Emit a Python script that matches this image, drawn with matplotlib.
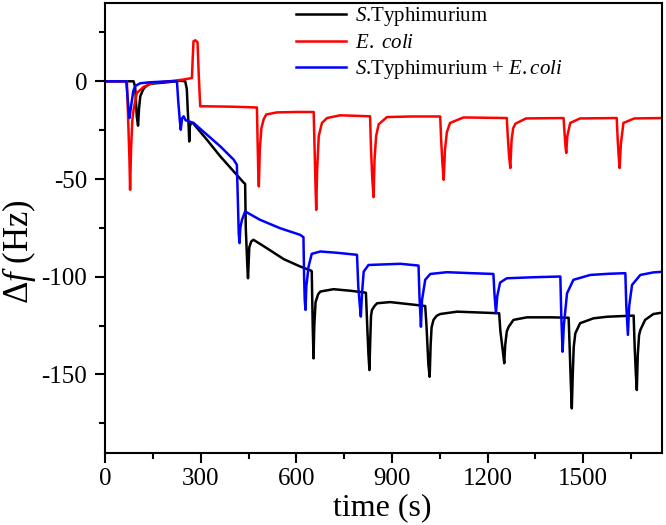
import matplotlib
matplotlib.use("Agg")
import matplotlib.pyplot as plt
from matplotlib.ticker import MultipleLocator

plt.rcParams['font.family'] = ['Liberation Serif', 'DejaVu Serif']
plt.rcParams['mathtext.fontset'] = 'custom'
plt.rcParams['mathtext.rm'] = 'Liberation Serif'
plt.rcParams['mathtext.it'] = 'Liberation Serif:italic'
plt.rcParams['axes.unicode_minus'] = False

# S.Typhimurium (black)
black_t = [0, 89, 94, 99, 103, 106, 110, 118, 125, 140, 194, 235, 251, 256, 259, 262,
           263.6, 265.5, 270, 277, 319, 361, 403, 434, 439, 441, 446, 448, 450, 452,
           458, 465, 507, 560, 612, 646, 648, 651, 653.6, 656, 660, 668, 675, 716, 770,
           818, 822, 826, 829, 832, 834, 837, 845, 853, 894, 950, 1004, 1008, 1014,
           1018, 1021, 1024, 1030, 1040, 1051, 1104, 1170, 1236, 1240, 1249, 1252,
           1255, 1260, 1266, 1281, 1323, 1400, 1454, 1457, 1461, 1464, 1467, 1470,
           1475, 1490, 1532, 1574, 1658, 1661, 1665, 1668, 1671, 1675, 1679, 1694,
           1720, 1747]
black_f = [0, 0, -3, -18, -22.7, -14, -7.7, -4.5, -2.9, -1.3, -0.5, 0.3, 0, -4, -15, -24,
           -30.8, -23, -21, -21.7, -29.9, -38.4, -46.1, -51.8, -52.5, -75, -95, -100.8,
           -93, -85, -82, -81.1, -85.4, -91, -94.8, -96.9, -97.2, -125, -141.8, -125,
           -113, -109, -107.6, -106.4, -107.2, -108.2, -125, -140, -147.8, -130, -120,
           -117, -115, -113.6, -113, -114, -115, -125, -145, -151.2, -135, -126, -122.1,
           -120, -119.1, -117.9, -118.3, -118.7, -128, -140, -144.3, -135, -128, -125.6,
           -122.1, -120.8, -120.8, -121, -135, -155, -167.4, -150, -136, -129, -123.8,
           -121.3, -120.5, -119.9, -135, -150, -158, -140, -130, -127.3, -122.1,
           -119.1, -118.4]

# E. coli (red)
red_t = [0, 68, 72, 76, 78, 81, 85, 89, 99, 120, 150, 200, 246, 272, 274, 277, 283,
         289.6, 293, 298, 320, 400, 476, 478, 480, 482, 485, 490, 497, 505, 539, 600,
         654, 657, 660, 662, 665, 670, 680, 696, 737, 831, 834, 838, 842, 845, 850,
         858, 884, 960, 1051, 1054, 1058, 1062, 1066, 1072, 1082, 1124, 1260, 1263,
         1267, 1271, 1275, 1280, 1287, 1320, 1438, 1441, 1444, 1446.5, 1450, 1459,
         1490, 1605, 1608, 1611, 1614, 1618, 1626, 1660, 1747]
red_f = [0, 0, -20, -40, -55.5, -35, -20, -14.5, -6, -2.9, -0.8, 0, 0.9, 1.7, 10, 20.5,
         21, 20, 5, -12.8, -12.8, -13, -13.4, -30, -45, -53.8, -35, -24, -19.5, -17,
         -15.9, -15.7, -15.7, -35, -55, -65.8, -45, -28, -21.3, -18.8, -17.4, -17.9,
         -35, -50, -59.3, -40, -28, -22, -18.3, -18, -18, -30, -42, -50.4, -35, -26,
         -21.3, -18.5, -18.8, -28, -38, -44.4, -30, -24, -21.7, -19, -18.8, -26, -33,
         -36.7, -28, -21.3, -19, -18.8, -30, -38, -44.4, -32, -21.3, -19, -18.8]

# S.Typhimurium + E.coli (blue)
blue_t = [0, 66, 70, 74, 76, 80, 84, 88, 94, 110, 140, 200, 225, 229, 234, 237, 241,
          246, 252, 277, 319, 361, 403, 413, 416, 419, 421.4, 424, 429, 439, 486, 549,
          612, 622, 624, 626, 628.5, 631, 638, 648, 675, 730, 790, 794, 799, 802, 806,
          811, 826, 926, 983, 986, 990.6, 994, 1004, 1020, 1072, 1150, 1218, 1221,
          1226, 1230, 1239, 1260, 1340, 1428, 1431, 1435, 1439, 1449, 1469, 1522,
          1580, 1632, 1635, 1640, 1644, 1653, 1679, 1720, 1747]
blue_f = [0, 0, -8, -16, -18.8, -14, -9.5, -5, -2.4, -1, -0.5, 0, 0, -10, -20, -24.8,
          -19, -17.9, -19.9, -21.3, -27.3, -33.3, -40.1, -42.7, -60, -78, -82.8, -75,
          -70.9, -66.6, -70.9, -75.2, -78.6, -79.8, -100, -112, -117, -105, -94.8,
          -88.3, -87.1, -87.8, -88.8, -105, -115, -120.4, -108, -97.4, -94, -93.4,
          -94.3, -110, -125.6, -112, -101.6, -98.6, -97.7, -98.2, -98.6, -108, -118.7,
          -110, -103, -100.8, -100.3, -99.9, -120, -138.4, -125, -108.5, -101.6, -99.1,
          -98.5, -98.2, -115, -129.8, -115, -104.2, -99.1, -97.8, -97.5]

fig = plt.figure(figsize=(6.66, 5.25), dpi=100)
ax = fig.add_axes([0.158, 0.138, 0.836, 0.856])

ax.plot(black_t, black_f, color='black', lw=1.8, label='$\\mathit{S}$.Typhimurium')
ax.plot(red_t, red_f, color='#ff0000', lw=1.8, label='$\\mathit{E.}$ $\\mathit{coli}$')
ax.plot(blue_t, blue_f, color='#0000ff', lw=1.8,
        label='$\\mathit{S}$.Typhimurium + $\\mathit{E.coli}$')

ax.set_xlim(0, 1747)
ax.set_ylim(-190, 40)
ax.xaxis.set_major_locator(MultipleLocator(300))
ax.xaxis.set_minor_locator(MultipleLocator(150))
ax.yaxis.set_major_locator(MultipleLocator(50))
ax.yaxis.set_minor_locator(MultipleLocator(25))
ax.tick_params(which='both', direction='out', width=1.5, top=False, right=False)
ax.tick_params(which='major', length=7, labelsize=18)
ax.tick_params(axis='x', which='major', pad=4)
ax.tick_params(axis='y', which='major', pad=6)
ax.tick_params(which='minor', length=4)
for s in ax.spines.values():
    s.set_linewidth(1.5)

ax.set_xlabel('time (s)', fontsize=23)
ax.set_ylabel('$\\Delta\\mathit{f}$ (Hz)', fontsize=25)
ax.xaxis.set_label_coords(0.497, -0.09, transform=ax.transAxes)
ax.yaxis.set_label_coords(-0.12, 0.447, transform=ax.transAxes)

ax.legend(loc='upper left', bbox_to_anchor=(0.338, 1.0), frameon=False, fontsize=15,
          handlelength=2.4, handletextpad=0.45, labelspacing=0.25, borderpad=0.1,
          borderaxespad=0)

fig.savefig('out.png', dpi=100)
